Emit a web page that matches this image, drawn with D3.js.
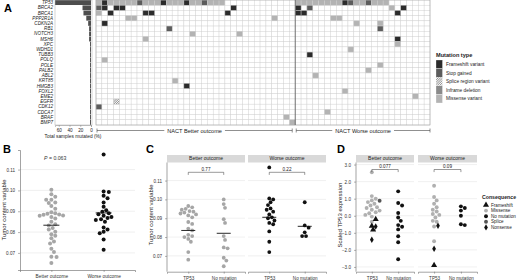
<!DOCTYPE html>
<html>
<head>
<meta charset="utf-8">
<script src="https://cdn.jsdelivr.net/npm/d3@7"></script>
<style>
  body { margin: 0; background: #fff; }
  svg { display: block; font-family: "Liberation Sans", Arial, sans-serif; }
</style>
</head>
<body>
<div id="chart"></div>
<script>
/* Figure: oncoprint (A) and tumor content / TP53 expression dot plots (B-D) */

// ---------- data ----------
const genes = ["TP53", "BRCA2", "BRCA1", "PPP2R1A", "CDKN2A", "RB1", "NOTCH3", "MSH6", "XPC", "WDHD1",
  "TUBB3", "POLQ", "POLE", "PALB2", "ABL2", "KRT85", "HMGB3", "FOXL2", "EME2", "EGFR",
  "CDK12", "CDCA7", "BRAF", "BMP7"];

// samples 0-33 = better outcome, 34-56 = worse outcome
const nBetter = 34, nWorse = 23;

// per gene: "sample + code", M missense, F frameshift, S stop gained, P splice region, I inframe deletion
const mutCodes = [
  "0M 1F 2M 3M 4M 5M 6M 7S 8M 9M 10M 11F 12M 13M 14M 15F 16M 17M 18S 19M 20M 21M 34M 35M 36M 37M 38M 39M 40M 41M 42F 43S 44M 45M 46S 47M 48M 49M",
  "0S 1F 3F 4F 23F 34F 36S 50M 52F",
  "0M 2F 8F 9F 22F 34F 35F 51F",
  "5M 6M 30M 40M 41M",
  "1F 44M 48M",
  "12S 48S",
  "16M 24M",
  "8M 51F",
  "51M",
  "43M",
  "36F",
  "1M",
  "48M",
  "46M",
  "37M",
  "13M",
  "15F",
  "42M",
  "54M",
  "3P",
  "0S",
  "39M",
  "32M",
  "33M"
];

const mutTypes = ["F", "S", "P", "I", "M"];
const mutLabels = ["Frameshift variant", "Stop gained", "Splice region variant", "Inframe deletion", "Missense variant"];
const pctTicks = [60, 40, 20, 0];

// panel B: tumor content variable
const outcomes = ["Better outcome", "Worse outcome"];
const bBetter = [0.1003, 0.0982, 0.0970, 0.0955, 0.0955, 0.0942, 0.0940, 0.0925, 0.0912, 0.0895, 0.0890, 0.0888,
  0.0885, 0.0883, 0.0880, 0.0878, 0.0872, 0.0865, 0.0850, 0.0838, 0.0832, 0.0820, 0.0812, 0.0802, 0.0790,
  0.0782, 0.0770, 0.0755, 0.0745, 0.0720, 0.0705, 0.0682, 0.0680, 0.0652];
const bWorse = [0.1173, 0.0995, 0.0993, 0.0975, 0.0962, 0.0942, 0.0922, 0.0905, 0.0898, 0.0890, 0.0886, 0.0878,
  0.0873, 0.0868, 0.0862, 0.0858, 0.0850, 0.0822, 0.0812, 0.0802, 0.0795, 0.0765, 0.0715];
const bMedians = [0.0833, 0.0892];
const bTicks = [0.07, 0.08, 0.09, 0.10, 0.11];

// panel C: tumor content by TP53 status
const groups = ["TP53", "No mutation"];
const cBetterTP53 = [0.0965, 0.0958, 0.0950, 0.0945, 0.0938, 0.0935, 0.0930, 0.0925, 0.0920, 0.0915, 0.0905,
  0.0880, 0.0870, 0.0845, 0.0835, 0.0812, 0.0805, 0.0800, 0.0790, 0.0775, 0.0720, 0.0680];
const cBetterNoMut = [0.1000, 0.0975, 0.0955, 0.0895, 0.0875, 0.0805, 0.0785, 0.0745, 0.0740, 0.0690, 0.0675, 0.0645];
const cWorseTP53 = [0.1170, 0.1005, 0.1000, 0.0985, 0.0970, 0.0952, 0.0945, 0.0935, 0.0920, 0.0905, 0.0900,
  0.0888, 0.0875, 0.0868, 0.0830, 0.0775, 0.0720];
const cWorseNoMut = [0.0985, 0.0862, 0.0850, 0.0825, 0.0805, 0.0805];
const cMedians = [[0.0835, 0.0820], [0.0905, 0.0857]];
const cPvals = ["0.77", "0.22"];

// panel D: scaled TP53 expression, [value, consequence]
const dBetterTP53 = [[2.55, "Missense"], [1.15, "Missense"], [1.0, "Missense"], [0.9, "Missense"], [0.8, "Missense"],
  [0.7, "Missense"], [0.6, "Missense"], [0.5, "Missense"], [0.45, "Missense"], [0.35, "Missense"], [0.3, "Missense"],
  [0.2, "Missense"], [0.15, "Missense"], [0.05, "Missense"], [-0.05, "Missense"], [-0.35, "Missense"],
  [0.88, "Splice"], [-0.2, "Frameshift"], [-0.6, "Frameshift"], [-0.82, "Frameshift"], [-0.63, "Nonsense"], [-1.41, "Nonsense"]];
const dBetterNoMut = [[1.43, "No mutation"], [0.75, "No mutation"], [0.6, "No mutation"], [0.16, "No mutation"],
  [-0.1, "No mutation"], [-0.3, "No mutation"], [-0.55, "No mutation"], [-0.65, "No mutation"], [-0.8, "No mutation"],
  [-1.2, "No mutation"], [-1.55, "No mutation"], [-2.55, "No mutation"]];
const dWorseTP53 = [[1.76, "Missense"], [1.1, "Missense"], [0.9, "Missense"], [0.7, "Missense"], [0.5, "Missense"],
  [0.35, "Missense"], [0.25, "Missense"], [0.1, "Missense"], [0.05, "Missense"], [-0.1, "Missense"], [-0.3, "Missense"],
  [-0.35, "Missense"], [-0.63, "Missense"], [-1.5, "Missense"], [-0.59, "Nonsense"], [-1.94, "Nonsense"], [-2.9, "Frameshift"]];
const dWorseNoMut = [[0.55, "No mutation"], [0.45, "No mutation"], [0.3, "No mutation"], [0.0, "No mutation"],
  [-0.5, "No mutation"], [-0.55, "No mutation"]];
const dPvals = ["0.077", "0.09"];
const dTicks = [3, 2, 1, 0, -1, -2, -3];
const consequences = ["Frameshift", "Missense", "No mutation", "Splice", "Nonsense"];

// ---------- styles ----------
const mutFill = {F: "#2b2b2b", S: "#5c5c5c", P: "url(#hatch)", I: "#8a8a8a", M: "#b3b3b3"};
const consFill = {"Frameshift": "#111", "Missense": "#b0b0b0", "No mutation": "#111", "Splice": "#555", "Nonsense": "#111"};
const consShape = {"Frameshift": d3.symbolTriangle, "Missense": d3.symbolCircle, "No mutation": d3.symbolCircle,
  "Splice": d3.symbolCircle, "Nonsense": d3.symbolDiamond};

const svg = d3.select("#chart").append("svg").attr("width", 520).attr("height", 280);

svg.append("defs").append("pattern")
    .attr("id", "hatch").attr("patternUnits", "userSpaceOnUse")
    .attr("width", 1.6).attr("height", 1.6).attr("patternTransform", "rotate(45)")
  .append("line").attr("x1", 0).attr("y1", 0).attr("x2", 0).attr("y2", 1.6)
    .attr("stroke", "#222").attr("stroke-width", 0.8);

const panelLetter = (x, y, t) => svg.append("text").attr("x", x).attr("y", y)
  .attr("font-size", 11).attr("font-weight", "bold").text(t);

// simple deterministic beeswarm: offset each point sideways until it clears the ones before it
function swarm(vals, y, r) {
  const placed = [];
  return vals.map(v => {
    const py = y(v);
    let dx = 0;
    for (let k = 0; k < 60; k++) {
      const cand = k === 0 ? 0 : (k % 2 ? 1 : -1) * Math.ceil(k / 2) * 1.3;
      if (placed.every(p => (p.x - cand) ** 2 + (p.y - py) ** 2 >= (2 * r) ** 2)) { dx = cand; break; }
    }
    placed.push({x: dx, y: py});
    return dx;
  });
}

// ---------- A: oncoprint ----------
panelLetter(4, 12, "A");

const cells = [];
genes.forEach((g, i) => mutCodes[i].split(" ").forEach(s => {
  cells.push({gene: g, col: +s.slice(0, -1), type: s.slice(-1)});
}));
const pct = genes.map(g => cells.filter(c => c.gene === g).length / (nBetter + nWorse) * 100);

const x = d3.scaleBand().domain(d3.range(nBetter + nWorse)).range([96, 430]);
const y = d3.scaleBand().domain(genes).range([0, 125]);

// grid
const grid = svg.append("g");
genes.forEach(g => {
  grid.selectAll(null).data(x.domain()).join("rect")
    .attr("x", d => x(d)).attr("y", y(g))
    .attr("width", x.bandwidth()).attr("height", y.bandwidth())
    .attr("fill", "#fff").attr("stroke", "#d2d2d2").attr("stroke-width", 0.45);
});

svg.append("g").selectAll("rect").data(cells).join("rect")
  .attr("x", d => x(d.col)).attr("y", d => y(d.gene))
  .attr("width", x.bandwidth()).attr("height", y.bandwidth())
  .attr("fill", d => mutFill[d.type]).attr("stroke", "#d2d2d2").attr("stroke-width", 0.45);

svg.append("rect").attr("x", 96).attr("y", 0).attr("width", 334).attr("height", 125)
  .attr("fill", "none").attr("stroke", "#999").attr("stroke-width", 0.5);
svg.append("line").attr("x1", x(nBetter)).attr("x2", x(nBetter)).attr("y1", 0).attr("y2", 125)
  .attr("stroke", "#555").attr("stroke-width", 0.8);

// gene labels
svg.append("g").selectAll("text").data(genes).join("text")
  .attr("x", 53).attr("y", d => y(d) + y.bandwidth() / 2 + 1.6)
  .attr("text-anchor", "end").attr("font-size", 4.6).attr("font-style", "italic").attr("fill", "#222")
  .text(d => d);

// bar chart of % mutated
const xBar = d3.scaleLinear().domain([0, 67]).range([91, 55]);
svg.append("rect").attr("x", 55).attr("y", 0).attr("width", 37).attr("height", 125)
  .attr("fill", "none").attr("stroke", "#aaa").attr("stroke-width", 0.5);
svg.append("g").selectAll("rect").data(genes).join("rect")
  .attr("x", (d, i) => xBar(pct[i])).attr("y", d => y(d) + 0.2)
  .attr("width", (d, i) => xBar(0) - xBar(pct[i])).attr("height", y.bandwidth() - 0.4)
  .attr("fill", "#4d4d4d");

const barAxis = svg.append("g").attr("transform", "translate(0,125)")
  .call(d3.axisBottom(xBar).tickValues(pctTicks).tickSize(2));
barAxis.select(".domain").attr("stroke", "#888").attr("stroke-width", 0.5);
barAxis.selectAll("line").attr("stroke", "#888").attr("stroke-width", 0.5);
barAxis.selectAll("text").attr("font-size", 4.6).attr("dy", "0.5em").attr("fill", "#222");
svg.append("text").attr("x", 73).attr("y", 138).attr("text-anchor", "middle")
  .attr("font-size", 4.8).attr("fill", "#222").text("Total samples mutated (%)");

// outcome brackets
function sectionBracket(x0, x1, label) {
  const yy = 130.5;
  svg.append("path").attr("d", `M${x0},${yy - 2}V${yy + 2}M${x0},${yy}H${x1}M${x1},${yy - 2}V${yy + 2}`)
    .attr("stroke", "#444").attr("stroke-width", 0.6).attr("fill", "none");
  const t = svg.append("text").attr("x", (x0 + x1) / 2).attr("y", yy + 2)
    .attr("text-anchor", "middle").attr("font-size", 5.6).attr("fill", "#222").text(label);
  const bb = t.node().getBBox();
  svg.insert("rect", () => t.node()).attr("x", bb.x - 3).attr("y", yy - 1).attr("width", bb.width + 6).attr("height", 2)
    .attr("fill", "#fff");
}
sectionBracket(x(0) + 1, x(nBetter) - 3, "NACT Better outcome");
sectionBracket(x(nBetter) + 1, 430, "NACT Worse outcome");

// legend
svg.append("text").attr("x", 436).attr("y", 57).attr("font-size", 5.6).attr("font-weight", "bold")
  .attr("fill", "#222").text("Mutation type");
const leg = svg.append("g").selectAll("g").data(mutTypes).join("g")
  .attr("transform", (d, i) => `translate(436,${60 + i * 8.6})`);
leg.append("rect").attr("width", 6.5).attr("height", 8.6)
  .attr("fill", d => mutFill[d]).attr("stroke", "#fff").attr("stroke-width", 0.3);
leg.append("text").attr("x", 10).attr("y", 6).attr("font-size", 4.8).attr("fill", "#222")
  .text((d, i) => mutLabels[i]);

// ---------- shared axis styling ----------
function styleAxis(g) {
  g.select(".domain").attr("stroke", "#666").attr("stroke-width", 0.6);
  g.selectAll(".tick line").attr("stroke", "#666").attr("stroke-width", 0.5);
  g.selectAll(".tick text").attr("font-size", 4.6).attr("fill", "#333");
}

function gridLines(yScale, ticks, x0, x1) {
  svg.append("g").selectAll("line").data(ticks).join("line")
    .attr("x1", x0).attr("x2", x1).attr("y1", d => yScale(d)).attr("y2", d => yScale(d))
    .attr("stroke", "#e6e6e6").attr("stroke-width", 0.6);
}

function dots(vals, xc, yScale, fill, r) {
  const off = swarm(vals, yScale, r);
  svg.append("g").selectAll("circle").data(vals).join("circle")
    .attr("cx", (d, i) => xc + off[i]).attr("cy", d => yScale(d)).attr("r", r).attr("fill", fill);
}

function medianLine(xc, yv, half) {
  svg.append("line").attr("x1", xc - half).attr("x2", xc + half)
    .attr("y1", yv).attr("y2", yv).attr("stroke", "#111").attr("stroke-width", 0.9);
}

function yTitle(xp, yp, t) {
  svg.append("text").attr("transform", `translate(${xp},${yp}) rotate(-90)`)
    .attr("text-anchor", "middle").attr("font-size", 6).attr("fill", "#222").text(t);
}

// ---------- B ----------
panelLetter(3, 153, "B");
const yB = d3.scaleLinear().domain([0.0618, 0.1194]).range([270, 150]);
const xB = d3.scalePoint().domain(outcomes).range([20, 135]).padding(0.6);
gridLines(yB, bTicks, 20, 135);
const bAxL = svg.append("g").attr("transform", "translate(20,0)")
  .call(d3.axisLeft(yB).tickValues(bTicks).tickFormat(d3.format(".2f")).tickSize(2));
styleAxis(bAxL);
const bAxB = svg.append("g").attr("transform", "translate(0,270)").call(d3.axisBottom(xB).tickSize(2));
styleAxis(bAxB);
bAxB.selectAll(".tick text").attr("font-size", 4.8);
yTitle(6, 210, "Tumor content variable");
dots(bBetter, xB(outcomes[0]), yB, "#a6a6a6", 2);
dots(bWorse, xB(outcomes[1]), yB, "#111", 2);
medianLine(xB(outcomes[0]), yB(bMedians[0]), 8);
medianLine(xB(outcomes[1]), yB(bMedians[1]), 8);
const pt = svg.append("text").attr("x", 44).attr("y", 159.5).attr("font-size", 5.2).attr("fill", "#333");
pt.append("tspan").attr("font-style", "italic").text("P");
pt.append("tspan").text(" = 0.063");

// ---------- facet helper for C and D ----------
const stripTop = 155, stripH = 7.5, panelBottom = 271.7;

function facet(x0, x1, title) {
  svg.append("rect").attr("x", x0).attr("y", stripTop).attr("width", x1 - x0).attr("height", stripH)
    .attr("fill", "#d9d9d9");
  svg.append("text").attr("x", (x0 + x1) / 2).attr("y", stripTop + 5.4).attr("text-anchor", "middle")
    .attr("font-size", 5).attr("fill", "#222").text(title);
  const xs = d3.scalePoint().domain(groups).range([x0, x1]).padding(0.6);
  const ax = svg.append("g").attr("transform", `translate(0,${panelBottom})`)
    .call(d3.axisBottom(xs).tickSize(2));
  styleAxis(ax);
  ax.selectAll(".tick text").attr("font-size", 4.6);
  return xs;
}

function pBracket(xa, xb, yy, label) {
  svg.append("path").attr("d", `M${xa},${yy + 2.6}V${yy}H${xb}V${yy + 2.6}`)
    .attr("fill", "none").attr("stroke", "#333").attr("stroke-width", 0.5);
  svg.append("text").attr("x", (xa + xb) / 2).attr("y", yy - 1.2).attr("text-anchor", "middle")
    .attr("font-size", 4.6).attr("fill", "#222").text(label);
}

// ---------- C ----------
panelLetter(146, 153, "C");
const yC = d3.scaleLinear().domain([0.0616, 0.1196]).range([panelBottom, stripTop + stripH]);
const cFacets = [[167, 245, outcomes[0]], [248, 326, outcomes[1]]];
const cData = [[cBetterTP53, cBetterNoMut], [cWorseTP53, cWorseNoMut]];
const cFill = ["#a6a6a6", "#111"];
cFacets.forEach(([x0, x1, t], fi) => {
  gridLines(yC, bTicks, x0, x1);
  const xs = facet(x0, x1, t);
  groups.forEach((grp, gi) => {
    dots(cData[fi][gi], xs(grp), yC, cFill[fi], 1.9);
    medianLine(xs(grp), yC(cMedians[fi][gi]), 7);
  });
  pBracket(xs(groups[0]), xs(groups[1]), 172.3, cPvals[fi]);
});
const cAxL = svg.append("g").attr("transform", "translate(167,0)")
  .call(d3.axisLeft(yC).tickValues(bTicks).tickFormat(d3.format(".2f")).tickSize(2));
styleAxis(cAxL);
cAxL.select(".domain").attr("d", `M0,${stripTop + stripH}V${panelBottom}`);
yTitle(153, 215, "Tumor content variable");

// ---------- D ----------
panelLetter(337, 153, "D");
const yD = d3.scaleLinear().domain([-3.28, 3.12]).range([panelBottom, stripTop + stripH]);
const dFacets = [[356, 414, outcomes[0]], [418, 477, outcomes[1]]];
const dData = [[dBetterTP53, dBetterNoMut], [dWorseTP53, dWorseNoMut]];
dFacets.forEach(([x0, x1, t], fi) => {
  gridLines(yD, dTicks, x0, x1);
  const xs = facet(x0, x1, t);
  groups.forEach((grp, gi) => {
    const pts = dData[fi][gi];
    const off = swarm(pts.map(d => d[0]), yD, 1.9);
    svg.append("g").selectAll("path").data(pts).join("path")
      .attr("transform", (d, i) => `translate(${xs(grp) + off[i]},${yD(d[0])})`)
      .attr("d", d => d3.symbol().type(consShape[d[1]]).size(d[1] === "Frameshift" ? 16 : 12)())
      .attr("fill", d => consFill[d[1]]);
  });
  pBracket(xs(groups[0]), xs(groups[1]), 169.5, dPvals[fi]);
});
const dAxL = svg.append("g").attr("transform", "translate(356,0)")
  .call(d3.axisLeft(yD).tickValues(dTicks).tickSize(2));
styleAxis(dAxL);
dAxL.select(".domain").attr("d", `M0,${stripTop + stripH}V${panelBottom}`);
yTitle(342, 215, "Scaled TP53 expression");

// consequence legend
svg.append("text").attr("x", 482).attr("y", 199).attr("font-size", 5.2).attr("font-weight", "bold")
  .attr("fill", "#222").text("Consequence");
const cleg = svg.append("g").selectAll("g").data(consequences).join("g")
  .attr("transform", (d, i) => `translate(486,${205 + i * 5.6})`);
cleg.append("path")
  .attr("d", d => d3.symbol().type(consShape[d]).size(d === "Frameshift" ? 16 : 12)())
  .attr("fill", d => consFill[d]);
cleg.append("text").attr("x", 5).attr("y", 1.6).attr("font-size", 4.6).attr("fill", "#222").text(d => d);
</script>
</body>
</html>
